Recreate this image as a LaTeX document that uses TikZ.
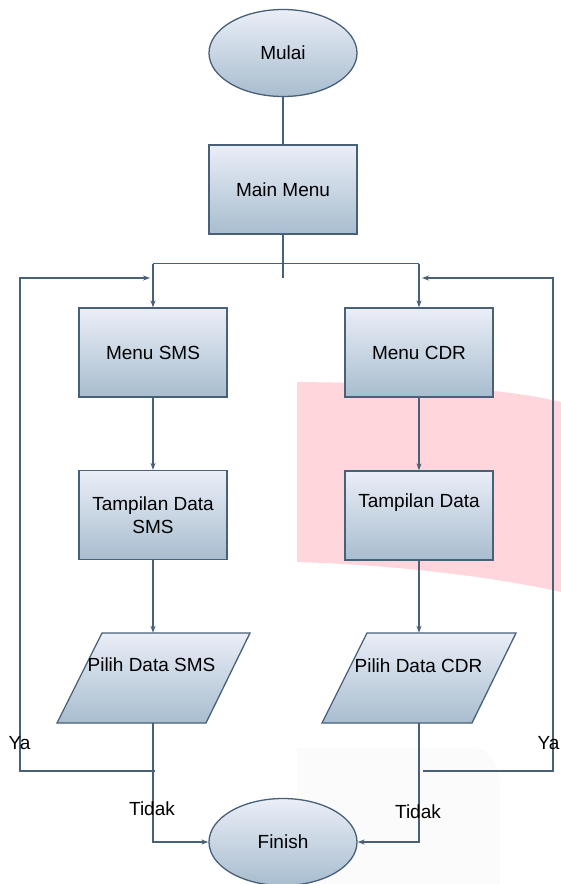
\documentclass[tikz,border=0pt]{standalone}
\usepackage{fontspec}
\setmainfont{Liberation Sans}
\usetikzlibrary{shapes.geometric,arrows.meta}
\definecolor{edgec}{RGB}{72,96,120}
\definecolor{topc}{RGB}{234,238,247}
\definecolor{botc}{RGB}{168,189,207}
\definecolor{wmpink}{RGB}{255,214,220}
\definecolor{wmgray}{RGB}{251,251,251}
\tikzset{
  shadebox/.style={draw=edgec, line width=1.3pt, top color=topc, bottom color=botc, inner sep=0pt},
  procbox/.style={shadebox, rectangle, minimum width=148pt, minimum height=89pt, align=center},
  termbox/.style={shadebox, ellipse, minimum width=148pt, minimum height=87pt},
  anchorbox/.style={rectangle, minimum width=148pt, minimum height=90pt, inner sep=0pt},
  txt/.style={font=\fontsize{19}{23.5}\selectfont, text=black, align=center, inner sep=0pt},
  conn/.style={draw=edgec, line width=2pt},
  connarr/.style={conn, -{Stealth[length=7pt,width=5pt]}},
  thinarr/.style={draw=edgec, line width=1.3pt, -{Stealth[length=7pt,width=5pt]}}
}
\begin{document}
\begin{tikzpicture}[x=1pt,y=-1pt]
\useasboundingbox (0,0) rectangle (561,884);
% watermark remnants
\fill[wmpink] (297,382) .. controls (400,383) and (500,387) .. (561,402) -- (561,592) .. controls (500,578) and (400,565) .. (297,562) -- cycle;
\fill[wmgray] (297,748) -- (470,748) .. controls (495,748) and (500,770) .. (500,790) -- (500,884) -- (297,884) -- cycle;

% nodes
\node[termbox, txt] (mulai) at (283,53) {Mulai};
\node[procbox, txt] (mainmenu) at (283,189.5) {Main Menu};
\node[procbox, txt] (msms) at (153,352.5) {Menu SMS};
\node[procbox, txt] (mcdr) at (419,352.5) {Menu CDR};
\node[procbox, txt] (tsms) at (153,515) {Tampilan Data\\SMS};
\node[procbox] (tcdr) at (419,515.5) {};
\node[txt] (tcdrtxt) at (419,503) {Tampilan Data};

% parallelograms
\shade[top color=topc, bottom color=botc, draw=edgec, line width=1.3pt]
  (102,633) -- (250,633) -- (206,723) -- (57,723) -- cycle;
\shade[top color=topc, bottom color=botc, draw=edgec, line width=1.3pt]
  (367,633) -- (516,633) -- (472,723) -- (322,723) -- cycle;
\node[anchorbox] (psms) at (153,678) {};
\node[anchorbox] (pcdr) at (419,678) {};
\node[txt] (psmstxt) at (151.5,665) {Pilih Data SMS};
\node[txt] (pcdrtxt) at (418.5,666) {Pilih Data CDR};

\node[termbox, txt] (finish) at (283,842) {Finish};

% coordinates
\coordinate (stub) at (283,278);
\coordinate (jl) at (153,263.5);
\coordinate (jr) at (419,263.5);
\coordinate (lstart) at (155,771);
\coordinate (lcorner1) at (20,771);
\coordinate (lcorner2) at (20,278);
\coordinate (lend) at (150,278);
\coordinate (rstart) at (423,771);
\coordinate (rcorner1) at (553,771);
\coordinate (rcorner2) at (553,278);
\coordinate (rend) at (422,278);

% connectors
\draw[conn] (mulai) -- (mainmenu);
\draw[conn] (mainmenu.south) -- (stub);
\draw[conn, line width=1.5pt] (jl) -- (jr);
\draw[connarr] (jl) -- (msms.north);
\draw[connarr] (jr) -- (mcdr.north);
\draw[connarr] (msms) -- (tsms);
\draw[connarr] (mcdr) -- (tcdr);
\draw[connarr] (tsms) -- (psms.north);
\draw[connarr] (tcdr) -- (pcdr.north);
\draw[connarr] (lstart) -- (lcorner1) -- (lcorner2) -- (lend);
\draw[connarr] (rstart) -- (rcorner1) -- (rcorner2) -- (rend);
\draw[thinarr] (psms.south) |- (finish.west);
\draw[thinarr] (pcdr.south) |- (finish.east);

% labels
\node[txt] (ya1) at (19.5,743) {Ya};
\node[txt] (ya2) at (548.5,743) {Ya};
\node[txt] (tidak1) at (152,809) {Tidak};
\node[txt] (tidak2) at (418,812) {Tidak};
\end{tikzpicture}
\end{document}
